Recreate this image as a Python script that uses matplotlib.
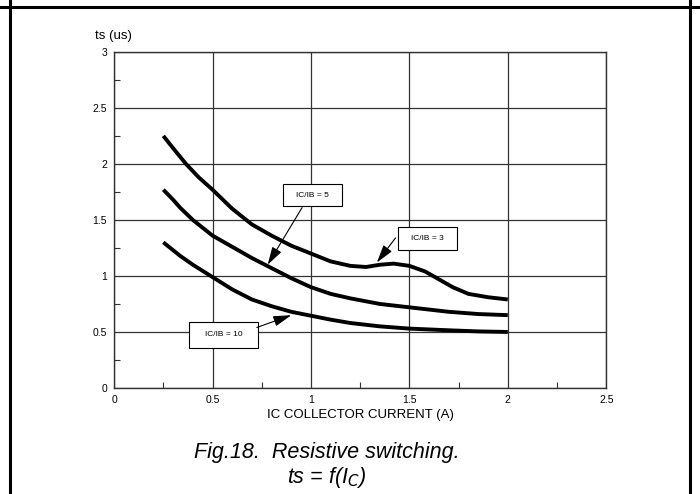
import matplotlib.pyplot as plt
from matplotlib.lines import Line2D
from matplotlib.patches import Rectangle
from matplotlib.ticker import MultipleLocator

plt.rcParams["font.family"] = ["Liberation Sans", "DejaVu Sans"]

# collector current (A) and storage time ts (us)
ic_3 = [0.25, 0.30, 0.365, 0.43, 0.50, 0.60, 0.70, 0.80, 0.90, 1.00, 1.10,
        1.20, 1.28, 1.35, 1.42, 1.50, 1.58, 1.65, 1.72, 1.80, 1.90, 2.00]
ts_3 = [2.25, 2.14, 2.00, 1.88, 1.77, 1.60, 1.46, 1.36, 1.27, 1.20, 1.13,
        1.09, 1.08, 1.10, 1.11, 1.09, 1.04, 0.97, 0.90, 0.84, 0.81, 0.79]

ic_5 = [0.25, 0.30, 0.335, 0.40, 0.50, 0.60, 0.70, 0.80, 0.90, 1.00, 1.10,
        1.20, 1.35, 1.50, 1.70, 1.85, 2.00]
ts_5 = [1.77, 1.68, 1.61, 1.50, 1.36, 1.26, 1.16, 1.07, 0.98, 0.90, 0.84,
        0.80, 0.75, 0.72, 0.68, 0.66, 0.65]

ic_10 = [0.25, 0.335, 0.40, 0.50, 0.60, 0.70, 0.80, 0.90, 1.00, 1.10, 1.20,
         1.35, 1.50, 1.70, 1.85, 2.00]
ts_10 = [1.30, 1.18, 1.10, 0.99, 0.88, 0.79, 0.73, 0.68, 0.645, 0.61, 0.58,
         0.55, 0.53, 0.515, 0.505, 0.50]

x_ticks = [0, 0.5, 1, 1.5, 2, 2.5]
x_ticklabels = ["0", "0.5", "1", "1.5", "2", "2.5"]
y_ticks = [0, 0.5, 1, 1.5, 2, 2.5, 3]
y_ticklabels = ["0", "0.5", "1", "1.5", "2", "2.5", "3"]

# labels: text, box (x0, y0, x1, y1), arrow start, arrow tip
labels = [
    ("IC/IB = 5", (0.86, 1.62, 1.16, 1.82), (0.955, 1.61), (0.78, 1.10)),
    ("IC/IB = 3", (1.44, 1.23, 1.74, 1.44), (1.43, 1.34), (1.335, 1.12)),
    ("IC/IB = 10", (0.38, 0.36, 0.73, 0.59), (0.725, 0.54), (0.90, 0.65)),
]

fig = plt.figure(figsize=(7, 4.94), dpi=100)
ax = fig.add_axes([0.163, 0.2146, 0.703, 0.6804])

for xs, ys in [(ic_3, ts_3), (ic_5, ts_5), (ic_10, ts_10)]:
    ax.plot(xs, ys, color="black", lw=2.8, solid_capstyle="butt", zorder=3)

ax.set_xlim(0, 2.5)
ax.set_ylim(0, 3)
ax.set_xticks(x_ticks)
ax.set_xticklabels(x_ticklabels)
ax.set_yticks(y_ticks)
ax.set_yticklabels(y_ticklabels)
ax.xaxis.set_minor_locator(MultipleLocator(0.25))
ax.yaxis.set_minor_locator(MultipleLocator(0.25))
ax.tick_params(which="major", length=0, labelsize=7.5, pad=5)
ax.tick_params(which="minor", direction="in", length=4, width=0.8,
               color="#333333")
ax.grid(True, which="major", color="#333333", lw=0.9)
for s in ax.spines.values():
    s.set_color("#333333")
    s.set_linewidth(1.0)

for text, (x0, y0, x1, y1), start, tip in labels:
    ax.add_patch(Rectangle((x0, y0), x1 - x0, y1 - y0, facecolor="white",
                           edgecolor="black", lw=0.8, zorder=4))
    ax.text((x0 + x1) / 2, (y0 + y1) / 2, text, ha="center", va="center",
            fontsize=6, zorder=5)
    ax.annotate("", xy=tip, xytext=start,
                arrowprops=dict(arrowstyle="-|>,head_length=1.1,head_width=0.32",
                                color="black", lw=0.8, shrinkA=0, shrinkB=0),
                zorder=5)

ax.text(-0.095, 3.09, "ts (us)", fontsize=9.5, ha="left", va="bottom")
ax.set_xlabel("IC COLLECTOR CURRENT (A)", fontsize=9.5, labelpad=3)

fig.text(0.467, 0.083, "Fig.18.  Resistive switching.", fontsize=15.5,
         style="italic", ha="center", va="center")
fig.text(0.467, 0.033, "ts = f(I$_C$)", fontsize=15.5, style="italic",
         ha="center", va="center")

# page frame
for xy in [((0.0136, 0.0136), (0, 1)), ((0.986, 0.986), (0, 1)),
           ((0, 1), (0.986, 0.986))]:
    fig.add_artist(Line2D(xy[0], xy[1], color="black", lw=2.2,
                          transform=fig.transFigure))

fig.savefig("out.png", dpi=100)
